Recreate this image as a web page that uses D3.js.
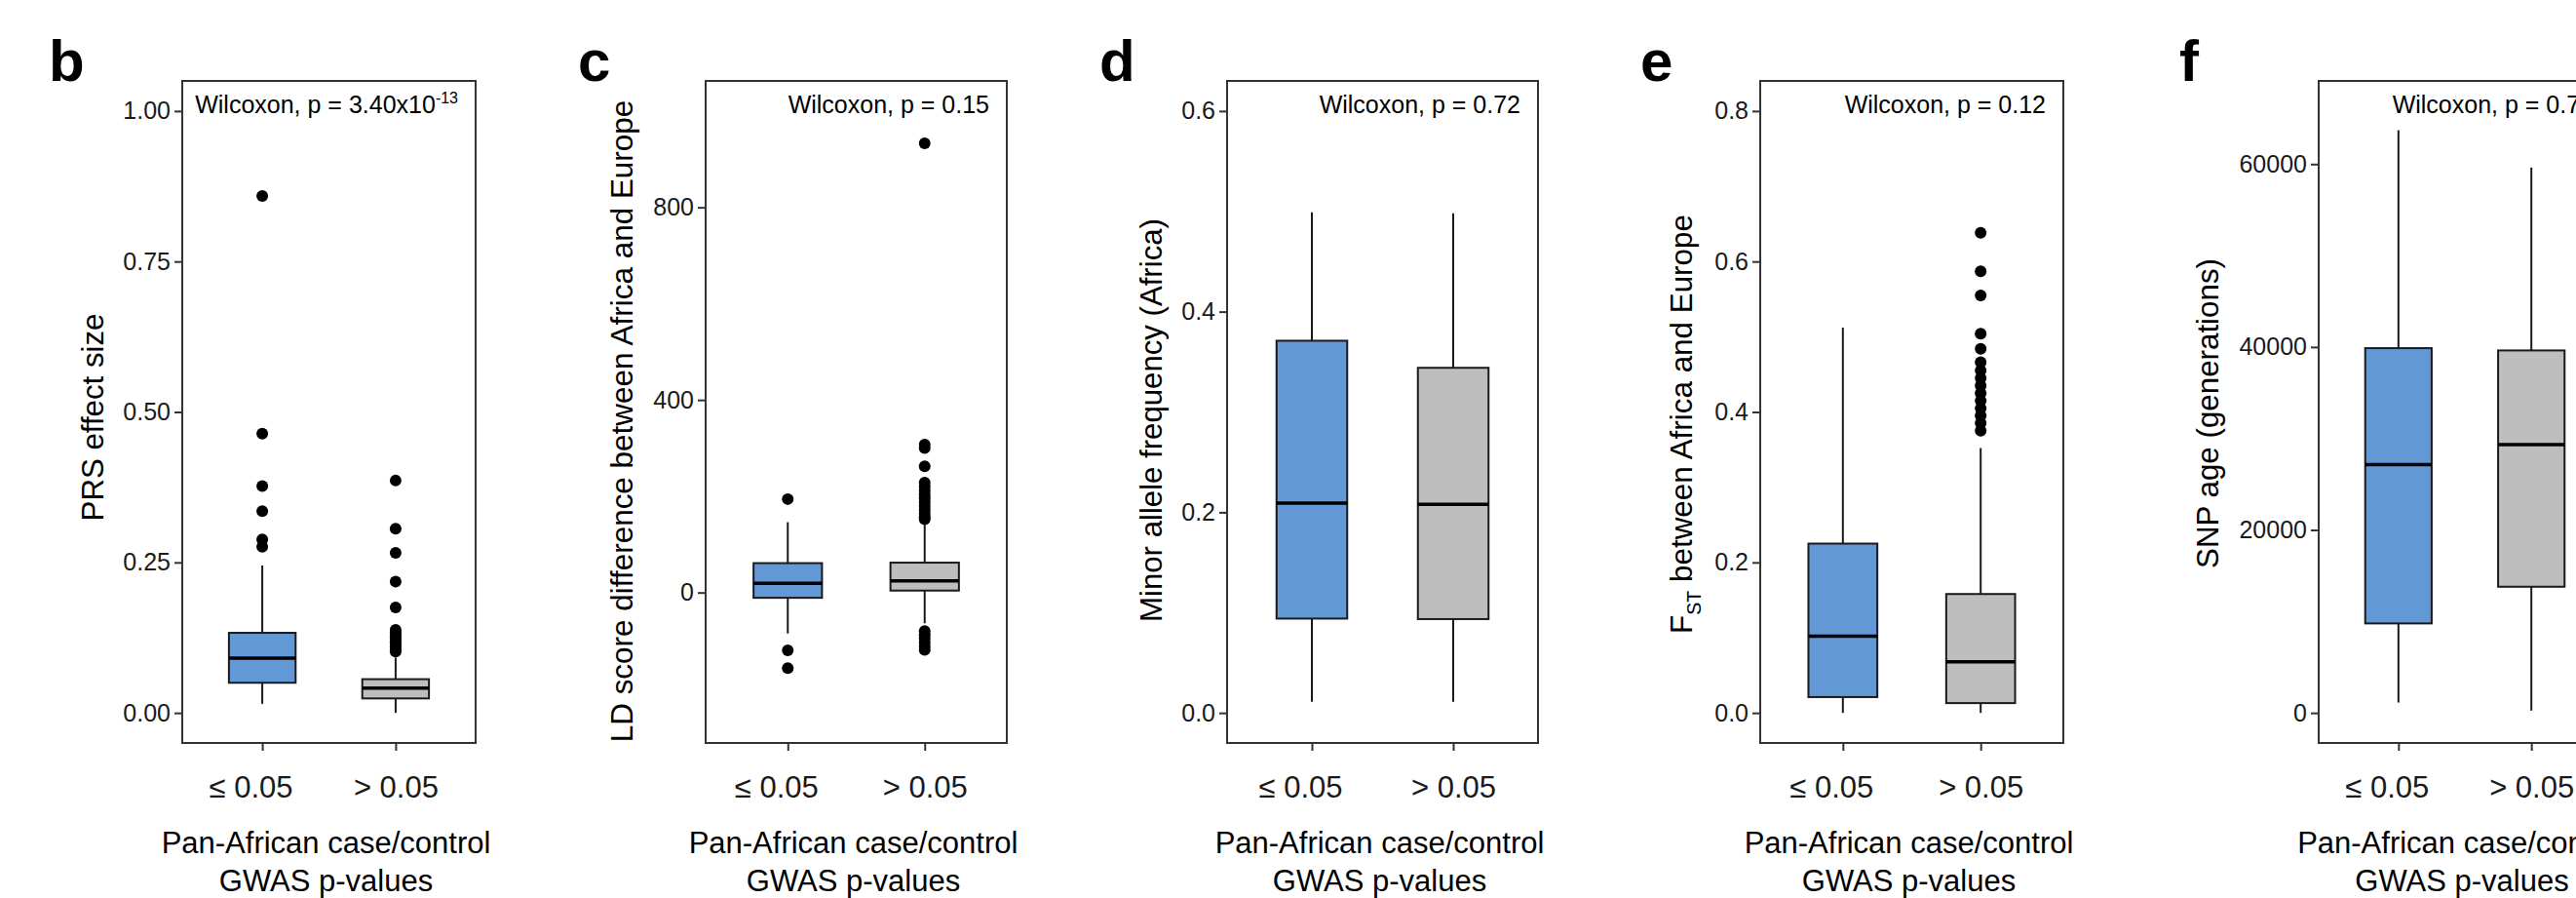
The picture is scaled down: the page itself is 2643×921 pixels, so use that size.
<!DOCTYPE html>
<html>
<head>
<meta charset="utf-8">
<script src="https://cdn.jsdelivr.net/npm/d3@7/dist/d3.min.js"></script>
<style>
  html, body { margin: 0; padding: 0; background: #fff; overflow: hidden; }
  svg { display: block; }
</style>
</head>
<body>
<svg id="chart" width="2643" height="921"></svg>
<script>
// ---------------- DATA ----------------
const categories = ["\u2264 0.05", "> 0.05"];
const panelLetters = ["b", "c", "d", "e", "f"];
const yTitles = ["PRS effect size", "LD score difference between Africa and Europe",
  "Minor allele frequency (Africa)", " between Africa and Europe", "SNP age (generations)"];
const wilcoxonP = ["3.40x10", "0.15", "0.72", "0.12", "0.75"];
const wilcoxonExp = ["-13", "", "", "", ""];

// box stats per category: [lower whisker, Q1, median, Q3, upper whisker]
const prsBox = [[0.015, 0.050, 0.091, 0.133, 0.245], [0.000, 0.024, 0.041, 0.056, 0.092]];
const prsOut = [[0.859, 0.464, 0.377, 0.335, 0.288, 0.276],
  [0.386, 0.306, 0.266, 0.218, 0.175, 0.138, 0.134, 0.130, 0.126, 0.122, 0.118, 0.114, 0.110, 0.106, 0.102]];
const prsTicks = [0, 0.25, 0.5, 0.75, 1.0];
const prsRange = [0, 1.0];

const ldBox = [[-85, -11, 19, 61, 146], [-64, 4, 24, 62, 141]];
const ldOut = [[194, -120, -157],
  [933, 307, 300, 262, 228, 220, 212, 204, 196, 188, 180, 172, 164, 157, 152, -80, -88, -96, -104, -112, -119]];
const ldTicks = [0, 400, 800];
const ldRange = [-250, 1000];

const mafBox = [[0.011, 0.094, 0.209, 0.371, 0.499], [0.011, 0.0935, 0.208, 0.344, 0.498]];
const mafOut = [[], []];
const mafTicks = [0, 0.2, 0.4, 0.6];
const mafRange = [0, 0.6];

const fstBox = [[0.0, 0.021, 0.102, 0.225, 0.512], [0.0, 0.013, 0.068, 0.158, 0.352]];
const fstOut = [[], [0.638, 0.587, 0.555, 0.504, 0.484, 0.466, 0.455, 0.445, 0.435, 0.425, 0.415, 0.405, 0.395, 0.385, 0.375]];
const fstTicks = [0, 0.2, 0.4, 0.6, 0.8];
const fstRange = [0, 0.8];

const ageBox = [[1130, 9780, 27150, 39875, 63700], [250, 13790, 29340, 39625, 59620]];
const ageOut = [[], []];
const ageTicks = [0, 20000, 40000, 60000];
const ageRange = [0, 65800];

// ---------------- LAYOUT / STYLE ----------------
const boxes = [prsBox, ldBox, mafBox, fstBox, ageBox];
const outs = [prsOut, ldOut, mafOut, fstOut, ageOut];
const ticks = [prsTicks, ldTicks, mafTicks, fstTicks, ageTicks];
const ranges = [prsRange, ldRange, mafRange, fstRange, ageRange];
const tickFormats = [".2f", "d", ".1f", ".1f", "d"];

const panelLeft = [187, 724, 1259, 1806, 2379];
const panelRight = [488, 1033, 1578, 2117, 2679];
const panelTop = 83, panelBottom = 762;
const letterX = [50, 593, 1128, 1683, 2236];
const yTitleX = [106, 649, 1192, 1736, 2276];
const yTitleCY = [428, 432, 431, 435, 424];
const yTitleLen = [213, 659, 414, 430, 318];
const fills = ["#6398d7", "#bebebe"];
const FONT = "'Liberation Sans', Arial, Helvetica, sans-serif";

const svg = d3.select("#chart");
svg.append("rect").attr("width", 2643).attr("height", 921).attr("fill", "#fff");

panelLetters.forEach((letter, i) => {
  const L = panelLeft[i], R = panelRight[i];
  const rg = ranges[i];
  const pad = (rg[1] - rg[0]) * 0.05;
  const y = d3.scaleLinear().domain([rg[0] - pad, rg[1] + pad]).range([panelBottom, panelTop]);
  const x = d3.scalePoint().domain(categories).range([L, R]).padding(0.6);
  const bw = x.step() * 0.5;

  const g = svg.append("g");

  // panel letter
  g.append("text").attr("x", letterX[i]).attr("y", 83)
    .attr("font-family", FONT).attr("font-weight", "bold").attr("font-size", 60)
    .attr("fill", "#000").text(letter);

  // y axis
  const yAxis = d3.axisLeft(y).tickValues(ticks[i]).tickFormat(d3.format(tickFormats[i]))
    .tickSize(8).tickPadding(4);
  const ya = g.append("g").attr("transform", `translate(${L},0)`).call(yAxis);
  ya.select(".domain").remove();
  ya.selectAll(".tick line").attr("stroke", "#333").attr("stroke-width", 2);
  ya.selectAll(".tick text").attr("font-family", FONT).attr("font-size", 25).attr("fill", "#1a1a1a");

  // x axis
  const xAxis = d3.axisBottom(x).tickSize(8).tickPadding(26);
  const xa = g.append("g").attr("transform", `translate(0,${panelBottom})`).call(xAxis);
  xa.select(".domain").remove();
  xa.selectAll(".tick line").attr("stroke", "#333").attr("stroke-width", 2);
  xa.selectAll(".tick text").attr("font-family", FONT).attr("font-size", 31).attr("fill", "#1a1a1a")
    .attr("dx", (d, k) => k === 0 ? -12 : 0);

  // x title
  const xt = g.append("text").attr("font-family", FONT).attr("font-size", 31)
    .attr("fill", "#000").attr("text-anchor", "middle");
  xt.append("tspan").attr("x", (L + R) / 2 - 3).attr("y", 875).text("Pan-African case/control");
  xt.append("tspan").attr("x", (L + R) / 2 - 3).attr("y", 914).text("GWAS p-values");

  // y title (condensed to match)
  const yt = g.append("text").attr("font-family", FONT).attr("font-size", 32)
    .attr("fill", "#000").attr("text-anchor", "middle");
  if (i === 3) {
    yt.append("tspan").text("F");
    yt.append("tspan").attr("font-size", 20).attr("dy", 9).text("ST");
    yt.append("tspan").attr("dy", -9).text(yTitles[i]);
  } else {
    yt.text(yTitles[i]);
  }
  const w = yt.node().getComputedTextLength();
  yt.attr("transform", `translate(${yTitleX[i]},${yTitleCY[i]}) rotate(-90) scale(${yTitleLen[i] / w},1)`);

  // boxes
  categories.forEach((cat, k) => {
    const s = boxes[i][k];
    const cx = x(cat);
    g.append("line").attr("x1", cx).attr("x2", cx).attr("y1", y(s[3])).attr("y2", y(s[4]))
      .attr("stroke", "#1a1a1a").attr("stroke-width", 2);
    g.append("line").attr("x1", cx).attr("x2", cx).attr("y1", y(s[1])).attr("y2", y(s[0]))
      .attr("stroke", "#1a1a1a").attr("stroke-width", 2);
    g.append("rect").attr("x", cx - bw / 2).attr("width", bw)
      .attr("y", y(s[3])).attr("height", y(s[1]) - y(s[3]))
      .attr("fill", fills[k]).attr("stroke", "#1a1a1a").attr("stroke-width", 2);
    g.append("line").attr("x1", cx - bw / 2).attr("x2", cx + bw / 2)
      .attr("y1", y(s[2])).attr("y2", y(s[2]))
      .attr("stroke", "#000").attr("stroke-width", 3.5);
    g.selectAll(null).data(outs[i][k]).enter().append("circle")
      .attr("cx", cx).attr("cy", d => y(d)).attr("r", 6).attr("fill", "#000");
  });

  // panel border
  g.append("rect").attr("x", L).attr("y", panelTop).attr("width", R - L).attr("height", panelBottom - panelTop)
    .attr("fill", "none").attr("stroke", "#333").attr("stroke-width", 2);

  // Wilcoxon annotation
  const wt = g.append("text").attr("x", R - 18).attr("y", 116).attr("text-anchor", "end")
    .attr("font-family", FONT).attr("font-size", 25).attr("fill", "#000");
  wt.append("tspan").text("Wilcoxon, p = " + wilcoxonP[i]);
  if (wilcoxonExp[i]) {
    wt.append("tspan").attr("font-size", 16).attr("dy", -10).text(wilcoxonExp[i]);
  }
});
</script>
</body>
</html>
